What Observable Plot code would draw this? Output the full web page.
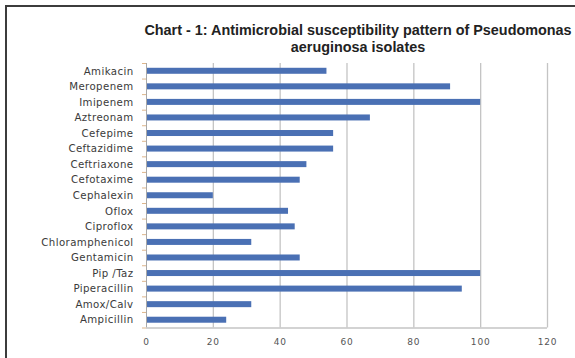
<!DOCTYPE html>
<html>
<head>
<meta charset="utf-8">
<script src="https://cdn.jsdelivr.net/npm/d3@7"></script>
<script src="https://cdn.jsdelivr.net/npm/@observablehq/plot@0.6"></script>
<style>
  html, body { margin: 0; padding: 0; background: #fff; overflow: hidden; }
  #wrap { position: relative; width: 575px; height: 358px; overflow: hidden; background: #fff; }
  #frame { position: absolute; left: 5px; top: 5px; width: 620px; height: 420px; border: 2px solid #3c3c3c; box-sizing: border-box; }
  .title { position: absolute; left: 0; width: 716px; text-align: center; font-family: "Liberation Sans", Arial, sans-serif; font-weight: bold; font-size: 14.4px; color: #222; white-space: nowrap; }
  #chart { position: absolute; left: 0; top: 0; }
  #chart svg g.ylab text { letter-spacing: 0.4px; }
  #chart svg g.xlab text { letter-spacing: 0.8px; }
</style>
</head>
<body>
<div id="wrap">
  <div id="frame"></div>
  <div id="chart"></div>
  <div class="title" id="t1" style="top:22px">Chart - 1: Antimicrobial susceptibility pattern of Pseudomonas</div>
  <div class="title" id="t2" style="top:39px">aeruginosa isolates</div>
</div>
<script>
const drugs = ["Amikacin","Meropenem","Imipenem","Aztreonam","Cefepime","Ceftazidime","Ceftriaxone","Cefotaxime","Cephalexin","Oflox","Ciproflox","Chloramphenicol","Gentamicin","Pip /Taz","Piperacillin","Amox/Calv","Ampicillin"];
const values = [54, 91, 100, 67, 56, 56, 48, 46, 20, 42.5, 44.5, 31.5, 46, 100, 94.5, 31.5, 24];
const xTicks = [0, 20, 40, 60, 80, 100, 120];
const data = drugs.map((d, i) => ({drug: d, value: values[i]}));

const H = 358, mTop = 63, mBottom = 30.5;
const step = (H - mTop - mBottom) / drugs.length;

const chart = Plot.plot({
  width: 575,
  height: H,
  marginLeft: 146,
  marginRight: 28,
  marginTop: mTop,
  marginBottom: mBottom,
  style: {background: "transparent", fontFamily: "DejaVu Sans, sans-serif"},
  x: {domain: [0, 120], ticks: xTicks},
  y: {domain: drugs, padding: 0, round: false},
  marks: [
    Plot.gridX(xTicks.filter(t => t > 0), {stroke: "#c4c4c4", strokeOpacity: 1, strokeWidth: 1.3}),
    Plot.barX(data, {y: "drug", x: "value", fill: "#4a70b4", insetTop: (step - 6) / 2, insetBottom: (step - 6) / 2}),
    Plot.ruleX([0], {stroke: "#a8a8a8", strokeWidth: 1}),
    Plot.ruleY([drugs[drugs.length - 1]], {x1: 0, x2: 120, dy: step / 2, stroke: "#c4c4c4", strokeWidth: 1.3}),
    Plot.axisY({tickSize: 0, tickPadding: 13, fontSize: 10.2, fill: "#3a3a3a", label: null, className: "ylab"}),
    Plot.axisY({tickSize: 4, text: null, dy: -step / 2, stroke: "#ddb58a", label: null}),
    Plot.axisY([drugs[drugs.length - 1]], {tickSize: 4, text: null, dy: step / 2, stroke: "#ddb58a", label: null}),
    Plot.axisX({tickSize: 0, tickPadding: 11, fontSize: 9, fill: "#555", label: null, className: "xlab"})
  ]
});
document.getElementById("chart").appendChild(chart);
</script>
</body>
</html>
